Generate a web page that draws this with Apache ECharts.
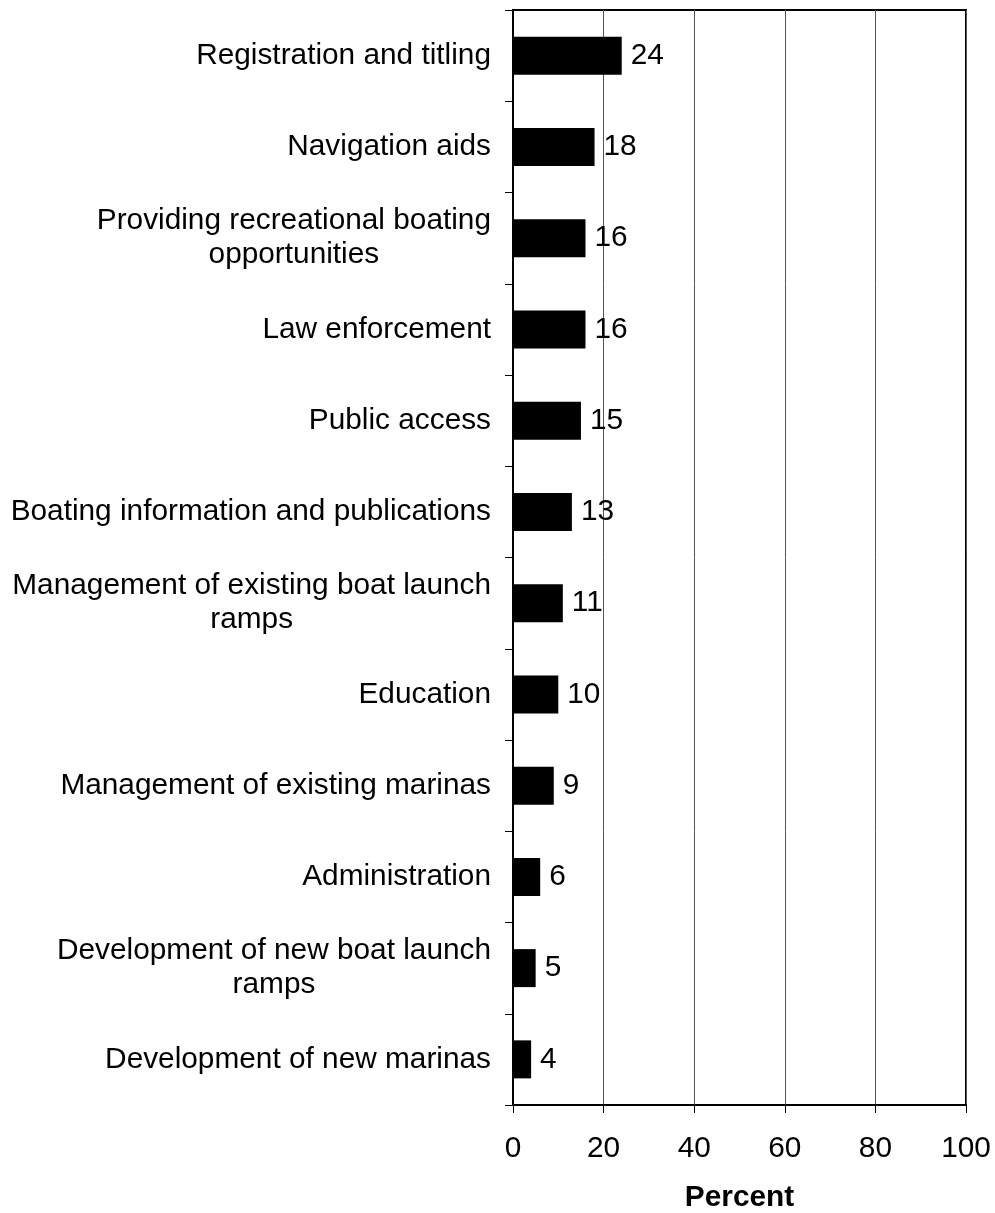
<!DOCTYPE html>
<html>
<head>
<meta charset="utf-8">
<script src="https://cdn.jsdelivr.net/npm/echarts@6/dist/echarts.min.js"></script>
<style>
html,body{margin:0;padding:0;background:#fff;}
#chart{width:995px;height:1213px;}
</style>
</head>
<body>
<div id="chart"></div>
<script>
const categories = [
  "Registration and titling",
  "Navigation aids",
  "Providing recreational boating\nopportunities",
  "Law enforcement",
  "Public access",
  "Boating information and publications",
  "Management of existing boat launch\nramps",
  "Education",
  "Management of existing marinas",
  "Administration",
  "Development of new boat launch\nramps",
  "Development of new marinas"
];
const values = [24, 18, 16, 16, 15, 13, 11, 10, 9, 6, 5, 4];
const xTicks = [0, 20, 40, 60, 80, 100];

const chart = echarts.init(document.getElementById('chart'), null, {renderer: 'canvas'});
const font = 'Liberation Sans, Arial, sans-serif';
const fs = 29.8;
chart.setOption({
  animation: false,
  backgroundColor: '#fff',
  grid: {
    left: 513, right: 29, top: 10, bottom: 108,
    containLabel: false,
    outerBoundsMode: 'none',
    show: true, borderColor: '#000', borderWidth: 2, backgroundColor: 'transparent'
  },
  xAxis: {
    type: 'value',
    min: xTicks[0], max: xTicks[xTicks.length - 1], interval: 20,
    name: 'Percent',
    nameLocation: 'middle',
    nameGap: 78,
    nameTextStyle: {fontFamily: font, fontSize: fs, fontWeight: 'bold', color: '#000'},
    axisLine: {show: true, lineStyle: {color: '#000', width: 2}},
    axisTick: {show: true, length: 8, lineStyle: {color: '#000', width: 1}},
    axisLabel: {margin: 29, fontFamily: font, fontSize: fs, color: '#000'},
    splitLine: {show: true, lineStyle: {color: '#555', width: 1}}
  },
  yAxis: {
    type: 'category',
    data: categories,
    inverse: true,
    axisLine: {show: true, lineStyle: {color: '#000', width: 2}},
    axisTick: {show: true, length: 8, lineStyle: {color: '#000', width: 1}},
    axisLabel: {
      margin: 22,
      fontFamily: font, fontSize: fs, color: '#000',
      lineHeight: 34,
      formatter: function (v) {
        return v.split('\n').map(function (s) { return '{c|' + s + '}'; }).join('\n');
      },
      rich: {
        c: {align: 'center', fontFamily: font, fontSize: fs, color: '#000', lineHeight: 34}
      }
    },
    splitLine: {show: false}
  },
  series: [{
    type: 'bar',
    data: values,
    barWidth: 38,
    itemStyle: {color: '#000'},
    label: {
      show: true, position: 'right', distance: 9,
      fontFamily: font, fontSize: fs, color: '#000'
    }
  }]
});
</script>
</body>
</html>
